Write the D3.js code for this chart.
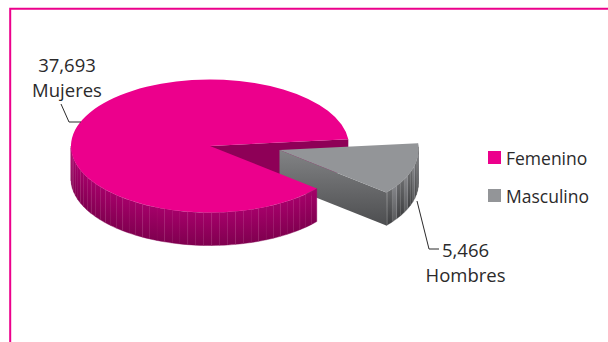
<!DOCTYPE html>
<html>
<head>
<meta charset="utf-8">
<script src="https://cdnjs.cloudflare.com/ajax/libs/d3/7.8.5/d3.min.js"></script>
<style>
html,body{margin:0;padding:0;background:#fff}
svg{display:block}
text{font-family:"Open Sans","Noto Sans",sans-serif;fill:#2b2a2b}
</style>
</head>
<body>
<svg id="chart" width="608" height="342"></svg>
<script>
const categories = ["Femenino", "Masculino"];
const values = [37693, 5466];
const sliceNames = ["Mujeres", "Hombres"];
const colors = ["#ec008c", "#939598"];

const svg = d3.select("#chart");
const rx = 139, ry = 66.5, depth = 33;
const cx = 210, cy = 146;
const explode = {dx: 69.5, dy: 4};
const deg = Math.PI / 180;

// Slices in d3's convention: 0 at twelve o'clock, clockwise.
const pie = d3.pie().sort(null).startAngle(129.8 * deg).endAngle((129.8 + 360) * deg);
const slices = pie(values);
const [fem, masc] = slices;

const px = a => rx * Math.sin(a);
const py = a => -ry * Math.cos(a);
const fmt = d3.format(",");

const defs = svg.append("defs");
const vGrad = (id, top, bottom) => {
  const g = defs.append("linearGradient").attr("id", id).attr("x1", 0).attr("y1", 0).attr("x2", 0).attr("y2", 1);
  g.append("stop").attr("offset", 0).attr("stop-color", top);
  g.append("stop").attr("offset", 1).attr("stop-color", bottom);
};
vGrad("femWall", "#a6006a", "#7f004f");
vGrad("mascCut", "#828385", "#4d4e50");
vGrad("mascWallA", "#85868a", "#58595b");
vGrad("mascWallB", "#6a6b6d", "#3f4042");

// Frame around the chart
svg.append("path")
  .attr("d", "M10.2 342V8.8H608")
  .attr("fill", "none").attr("stroke", colors[0]).attr("stroke-width", 2);

// Curved rim built from narrow facets, so each one keeps its own vertical shading
function rim(g, a0, a1, step, fill, highlight, strong, faint) {
  const edges = d3.range(a0, a1, step).concat([a1]);
  d3.pairs(edges).forEach(([s, e], i) => {
    const d = `M${px(s)},${py(s)}A${rx},${ry} 0 0 1 ${px(e)},${py(e)}` +
      `L${px(e)},${py(e) + depth}A${rx},${ry} 0 0 0 ${px(s)},${py(s) + depth}Z`;
    const paint = typeof fill === "function" ? fill(i) : fill;
    g.append("path").attr("d", d)
      .attr("fill", paint)
      .attr("stroke", paint).attr("stroke-width", 0.4);
    if (i > 0) {
      g.append("line")
        .attr("x1", px(s)).attr("y1", py(s))
        .attr("x2", px(s)).attr("y2", py(s) + depth)
        .attr("stroke", highlight).attr("stroke-width", 0.6)
        .attr("stroke-opacity", i % 3 === 0 ? strong : faint);
    }
  });
}

function cutFace(g, angle, fill) {
  const x = px(angle), y = py(angle);
  g.append("path")
    .attr("d", `M0,0L${x},${y}L${x},${y + depth}L0,${depth}Z`)
    .attr("fill", fill);
}

const topFace = d3.arc().innerRadius(0).outerRadius(rx);
function drawTop(g, d, fill) {
  g.append("path")
    .attr("d", topFace({startAngle: d.startAngle, endAngle: d.endAngle}))
    .attr("transform", `scale(1,${ry / rx})`)
    .attr("fill", fill);
}

// Back cut of the large slice, seen through the gap
const main = svg.append("g").attr("transform", `translate(${cx},${cy})`);
cutFace(main, masc.startAngle, "#8e0057");

// Detached slice sits behind the large one
const det = svg.append("g").attr("transform", `translate(${cx + explode.dx},${cy + explode.dy})`);
cutFace(det, masc.endAngle, "url(#mascCut)");
rim(det, masc.startAngle, masc.endAngle, 3.2 * deg,
  i => i % 3 === 0 ? "url(#mascWallA)" : "url(#mascWallB)", "#c9cacc", 0.3, 0.14);
drawTop(det, masc, colors[1]);

// Large slice: visible rim runs from the front cut to nine o'clock
const front = svg.append("g").attr("transform", `translate(${cx},${cy})`);
rim(front, fem.startAngle, 270 * deg, 3.3 * deg, "url(#femWall)", "#f49ac1", 0.16, 0.05);
drawTop(front, fem, colors[0]);

// Value and name labels with their leader lines
const labels = svg.append("g").attr("font-size", 18.5).attr("text-anchor", "middle");
const labelSpots = [
  {value: [67, 72], name: [67, 97], leader: [[61, 104], [69, 122], [81, 122]]},
  {value: [465.5, 257], name: [465.5, 282], leader: [[417, 201], [429, 249], [439, 249]]}
];
const line = d3.line();
labelSpots.forEach((s, i) => {
  labels.append("text").attr("x", s.value[0]).attr("y", s.value[1]).text(fmt(values[i]));
  labels.append("text").attr("x", s.name[0]).attr("y", s.name[1]).text(sliceNames[i]);
  svg.append("path").attr("d", line(s.leader))
    .attr("fill", "none").attr("stroke", "#2b2a2b").attr("stroke-width", 1);
});

// Legend
const legendY = d3.scalePoint().domain(categories).range([151, 189]);
const legend = svg.append("g").selectAll("g").data(categories).join("g")
  .attr("transform", d => `translate(488,${legendY(d)})`);
legend.append("rect").attr("width", 13).attr("height", 13).attr("fill", (d, i) => colors[i]);
legend.append("text").attr("x", 18).attr("y", 14).attr("font-size", 17.5).text(d => d);
</script>
</body>
</html>
